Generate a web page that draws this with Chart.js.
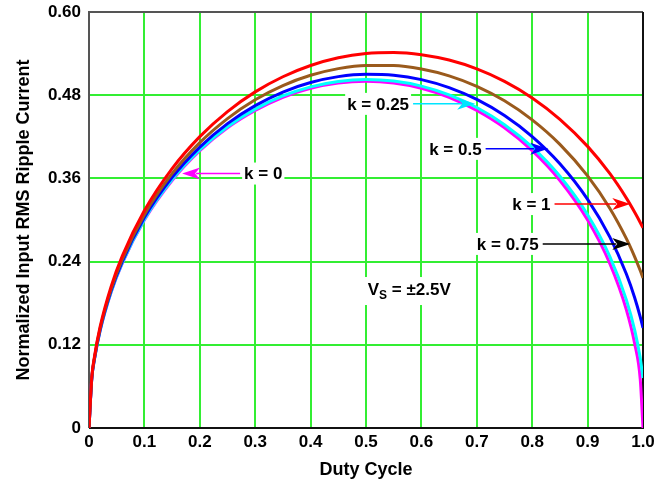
<!DOCTYPE html>
<html>
<head>
<meta charset="utf-8">
<script src="https://cdn.jsdelivr.net/npm/chart.js@4"></script>
<style>
  html, body { margin: 0; padding: 0; background: #fff; }
  #wrap { width: 656px; height: 481px; }
</style>
</head>
<body>
<div id="wrap"><canvas id="rippleChart" width="656" height="481"></canvas></div>
<script>
// duty cycle points (x)
const duty = [0, 0.005, 0.01, 0.02, 0.04, 0.06, 0.1, 0.15, 0.2, 0.25, 0.3, 0.35, 0.4, 0.45, 0.5,
              0.55, 0.6, 0.65, 0.7, 0.75, 0.8, 0.85, 0.9, 0.94, 0.97, 0.985, 0.995, 1.0];

// normalized input RMS ripple current
const k0   = [0, 0.0705, 0.0995, 0.140, 0.196, 0.2375, 0.300, 0.357, 0.400, 0.433, 0.458, 0.477, 0.490, 0.4975, 0.500,
              0.4975, 0.490, 0.477, 0.458, 0.433, 0.400, 0.357, 0.300, 0.2375, 0.1706, 0.1216, 0.0705, 0];
const k025 = [0, 0.0707, 0.0998, 0.1404, 0.1965, 0.2381, 0.3009, 0.3582, 0.4013, 0.4345, 0.4600, 0.4789, 0.4920, 0.4998, 0.5026,
              0.5004, 0.4931, 0.4805, 0.4622, 0.4375, 0.4052, 0.3632, 0.3077, 0.2476, 0.1848, 0.1411, 0.1008, 0.0722];
const k05  = [0, 0.0713, 0.1005, 0.1415, 0.1981, 0.2401, 0.3035, 0.3614, 0.4052, 0.4390, 0.4650, 0.4846, 0.4983, 0.5068, 0.5103,
              0.5089, 0.5025, 0.4910, 0.4739, 0.4507, 0.4203, 0.3811, 0.3298, 0.2757, 0.2221, 0.1879, 0.1603, 0.1443];
const k075 = [0, 0.0722, 0.1018, 0.1433, 0.2007, 0.2433, 0.3077, 0.3668, 0.4116, 0.4463, 0.4734, 0.4939, 0.5087, 0.5183, 0.5229,
              0.5228, 0.5178, 0.5079, 0.4928, 0.4719, 0.4444, 0.4091, 0.3636, 0.3170, 0.2731, 0.2469, 0.2272, 0.2165];
const k1   = [0, 0.0734, 0.1036, 0.1458, 0.2043, 0.2478, 0.3136, 0.3742, 0.4203, 0.4564, 0.4848, 0.5066, 0.5228, 0.5339, 0.5401,
              0.5416, 0.5385, 0.5307, 0.5180, 0.5000, 0.4761, 0.4453, 0.4062, 0.3671, 0.3316, 0.3112, 0.2965, 0.2887];

const yTickLabels = ['0', '0.12', '0.24', '0.36', '0.48', '0.60'];
const xTickLabels = ['0', '0.1', '0.2', '0.3', '0.4', '0.5', '0.6', '0.7', '0.8', '0.9', '1.0'];

const FONT = "'Liberation Sans', Arial, sans-serif";

function series(vals) {
  return duty.map((d, i) => ({ x: d, y: vals[i] }));
}

// label + arrow callouts, in data units
const callouts = [
  { text: 'k = 0',    x: 0.280, y: 0.367,  tipX: 0.168, color: '#ff00ff' },
  { text: 'k = 0.25', x: 0.466, y: 0.4675, tipX: 0.697, color: '#00e5ff' },
  { text: 'k = 0.5',  x: 0.614, y: 0.4026, tipX: 0.829, color: '#0000ff' },
  { text: 'k = 1',    x: 0.764, y: 0.323,  tipX: 0.977, color: '#ff0000' },
  { text: 'k = 0.75', x: 0.700, y: 0.2655, tipX: 0.977, color: '#000000' }
];

// keep the plot box where the reference has it
function noPad(s) {
  s.paddingTop = 0;
  s.paddingBottom = 0;
  s.paddingLeft = 0;
  s.paddingRight = 0;
}

const frame = {
  id: 'frame',
  beforeDatasetsDraw(chart) {
    const { ctx, chartArea: a } = chart;
    ctx.save();
    ctx.lineWidth = 2;
    ctx.strokeStyle = '#555';
    ctx.beginPath();
    ctx.moveTo(a.left, a.bottom);
    ctx.lineTo(a.left, a.top);
    ctx.lineTo(a.right, a.top);
    ctx.stroke();
    ctx.strokeStyle = '#111';
    ctx.beginPath();
    ctx.moveTo(a.right, a.top);
    ctx.lineTo(a.right, a.bottom);
    ctx.lineTo(a.left, a.bottom);
    ctx.stroke();
    ctx.restore();
  }
};

const notes = {
  id: 'notes',
  afterDatasetsDraw(chart) {
    const { ctx, scales: { x, y } } = chart;
    ctx.save();
    ctx.font = 'bold 17px ' + FONT;
    ctx.textBaseline = 'middle';
    callouts.forEach(c => {
      const px = x.getPixelForValue(c.x);
      const py = y.getPixelForValue(c.y);
      const w = ctx.measureText(c.text).width;
      ctx.fillStyle = '#fff';
      ctx.fillRect(px - 2, py - 11, w + 4, 22);
      ctx.fillStyle = '#000';
      ctx.textAlign = 'left';
      ctx.fillText(c.text, px, py + 1);
      // arrow
      const x0 = px + w + 4;
      const x1 = x.getPixelForValue(c.tipX);
      const dir = x1 > x0 ? 1 : -1;
      const start = dir > 0 ? x0 : px - 4;
      ctx.strokeStyle = c.color;
      ctx.fillStyle = c.color;
      ctx.lineWidth = 1.5;
      ctx.beginPath();
      ctx.moveTo(start, py);
      ctx.lineTo(x1 - dir * 14, py);
      ctx.stroke();
      ctx.beginPath();
      ctx.moveTo(x1, py);
      ctx.lineTo(x1 - dir * 18, py - 6);
      ctx.lineTo(x1 - dir * 13, py);
      ctx.lineTo(x1 - dir * 18, py + 6);
      ctx.closePath();
      ctx.fill();
    });

    // supply voltage note
    const vx = x.getPixelForValue(0.578);
    const vy = y.getPixelForValue(0.199);
    const big = 'bold 17px ' + FONT;
    const small = 'bold 12px ' + FONT;
    ctx.font = big;
    const wV = ctx.measureText('V').width;
    const rest = ' = \u00B12.5V';
    const wR = ctx.measureText(rest).width;
    ctx.font = small;
    const wS = ctx.measureText('S').width;
    const total = wV + wS + wR;
    let cx = vx - total / 2;
    ctx.fillStyle = '#fff';
    ctx.fillRect(cx - 3, vy - 13, total + 6, 28);
    ctx.fillStyle = '#000';
    ctx.textAlign = 'left';
    ctx.font = big;
    ctx.fillText('V', cx, vy);
    cx += wV;
    ctx.font = small;
    ctx.fillText('S', cx, vy + 6);
    cx += wS;
    ctx.font = big;
    ctx.fillText(rest, cx, vy);
    ctx.restore();
  }
};

const data = {
  datasets: [
    { label: 'k = 1',    data: series(k1),   borderColor: '#ff0000' },
    { label: 'k = 0.75', data: series(k075), borderColor: '#9a5a1c' },
    { label: 'k = 0.5',  data: series(k05),  borderColor: '#0000ff' },
    { label: 'k = 0.25', data: series(k025), borderColor: '#00ffff' },
    { label: 'k = 0',    data: series(k0),   borderColor: '#ff00ff' }
  ].map(ds => Object.assign(ds, {
    borderWidth: 3,
    pointRadius: 0,
    fill: false,
    cubicInterpolationMode: 'monotone'
  }))
};

const ctx = document.getElementById('rippleChart').getContext('2d');
new Chart(ctx, {
  type: 'line',
  data: data,
  plugins: [frame, notes],
  options: {
    responsive: false,
    animation: false,
    layout: { padding: { top: 12, right: 13, left: 0, bottom: 0 } },
    plugins: {
      legend: { display: false },
      tooltip: { enabled: false }
    },
    scales: {
      x: {
        type: 'linear',
        min: 0,
        max: 1,
        afterFit: s => { s.height = 53; noPad(s); },
        border: { display: false },
        grid: { color: '#33ee33', lineWidth: 2, drawTicks: false },
        ticks: {
          stepSize: 0.1,
          padding: 4,
          color: '#000',
          font: { family: FONT, size: 17, weight: 'bold' },
          maxRotation: 0,
          callback: (v) => xTickLabels[Math.round(v * 10)]
        },
        title: {
          display: true,
          text: 'Duty Cycle',
          color: '#000',
          font: { family: FONT, size: 18, weight: 'bold' },
          padding: { top: 0, bottom: 0 }
        }
      },
      y: {
        min: 0,
        max: 0.6,
        afterFit: s => { s.width = 89; noPad(s); },
        border: { display: false },
        grid: { color: '#33ee33', lineWidth: 2, drawTicks: false },
        ticks: {
          stepSize: 0.12,
          padding: 8,
          color: '#000',
          font: { family: FONT, size: 17, weight: 'bold' },
          callback: (v) => yTickLabels[Math.round(v / 0.12)]
        },
        title: {
          display: true,
          text: 'Normalized Input RMS Ripple Current',
          color: '#000',
          font: { family: FONT, size: 18, weight: 'bold' },
          padding: { top: 13, bottom: 0 }
        }
      }
    }
  }
});
</script>
</body>
</html>
